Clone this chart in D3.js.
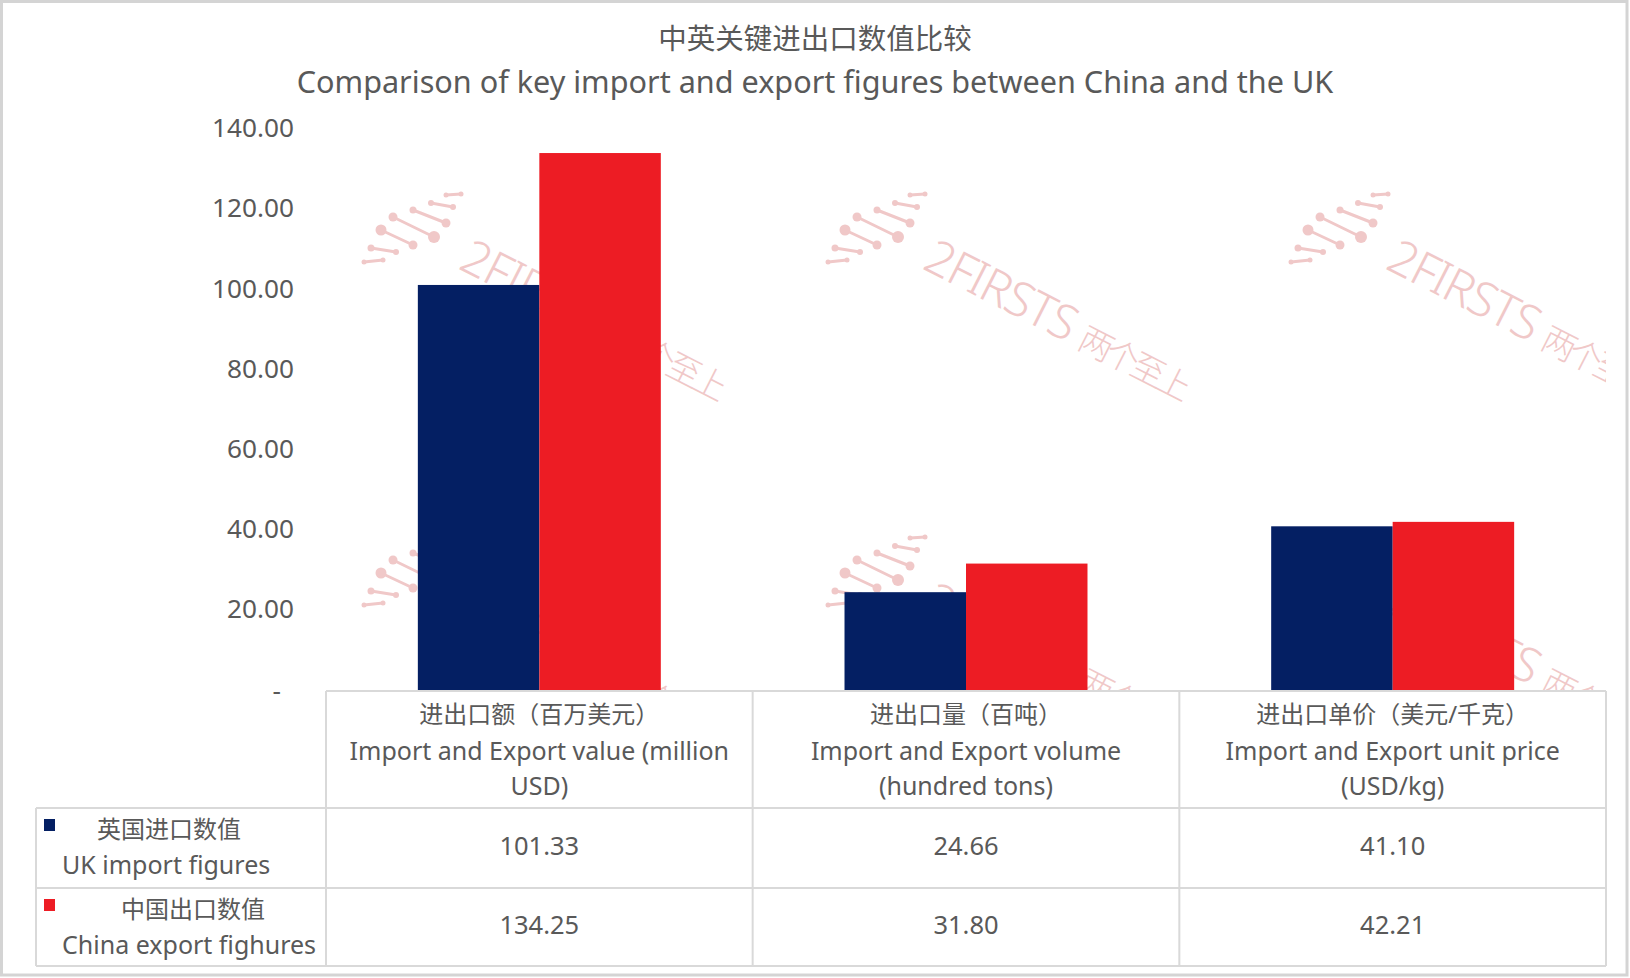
<!DOCTYPE html>
<html><head><meta charset="utf-8">
<script src="https://cdn.jsdelivr.net/npm/d3@7"></script>
<style>
html,body{margin:0;padding:0;background:#fff;}
svg{display:block;}
text{font-family:"Noto Sans","Noto Sans CJK SC",sans-serif;fill:#595959;}
</style></head><body>
<svg id="chart" width="1630" height="978"></svg>
<script>
// ---------- data ----------
const titleZh = "中英关键进出口数值比较";
const titleEn = "Comparison of key import and export figures between China and the UK";
const categoryKeys = ["value", "volume", "price"];
const categoriesZh = ["进出口额（百万美元）", "进出口量（百吨）", "进出口单价（美元/千克）"];
const categoriesEn = [["Import and Export value (million", "USD)"], ["Import and Export volume", "(hundred tons)"], ["Import and Export unit price", "(USD/kg)"]];
const seriesKeys = ["uk", "china"];
const seriesZh = ["英国进口数值", "中国出口数值"];
const seriesEn = ["UK import figures", "China export fighures"];
const ukImport = [101.33, 24.66, 41.10];
const chinaExport = [134.25, 31.80, 42.21];
const yTicks = [0, 20, 40, 60, 80, 100, 120, 140];
const colors = ["#041F63", "#ED1C24"];

// ---------- layout ----------
const W = 1630, H = 978;
const plotLeft = 326, plotRight = 1606, plotTop = 130, plotBottom = 691;
const tableLeft = 36, headerBottom = 808, row1Bottom = 888, row2Bottom = 966;
const gridColor = "#d9d9d9";
const svg = d3.select("#chart");

svg.append("rect").attr("width", W).attr("height", H).attr("fill", "#fff");

const series = [ukImport, chinaExport];
const y = d3.scaleLinear().domain([0, 140]).range([plotBottom, plotTop]);
const x0 = d3.scaleBand().domain(categoryKeys).range([plotLeft, plotRight]).paddingInner(0).paddingOuter(0);
const x1 = d3.scaleBand().domain(seriesKeys).range([0, x0.bandwidth()]).paddingInner(0).paddingOuter(0.756);

// ---------- watermark (decoration) ----------
svg.append("clipPath").attr("id", "wmclip").append("rect")
  .attr("x", 0).attr("y", 0).attr("width", plotRight).attr("height", plotBottom);
const wmAnchors = [[457, 268], [921, 268], [1384, 268], [457, 611], [921, 611], [1384, 611]];
const logoLines = [[-93,-6,-74,-8,2.5,2.5],[-86,-20,-61,-16,3.5,3],[-76,-38,-44,-23,5.5,4.5],[-64,-51,-23,-31,4.5,6],[-44,-58,-11,-45,3.5,4.5],[-26,-65,-4,-61,3,3],[-11,-73,4,-74,2.5,2.5]];
const wmColor = "#f0c8c8";
const wm = svg.append("g").attr("class", "watermark").attr("clip-path", "url(#wmclip)");
wmAnchors.forEach(([ax, ay]) => {
  const g = wm.append("g").attr("transform", `translate(${ax},${ay})`);
  logoLines.forEach(([a, b, c, d, r1, r2]) => {
    g.append("line").attr("x1", a).attr("y1", b).attr("x2", c).attr("y2", d)
      .attr("stroke", wmColor).attr("stroke-width", 3).attr("stroke-linecap", "round");
    g.append("circle").attr("cx", a).attr("cy", b).attr("r", r1).attr("fill", wmColor);
    g.append("circle").attr("cx", c).attr("cy", d).attr("r", r2).attr("fill", wmColor);
  });
  const t = g.append("text").attr("transform", "rotate(27)")
    .attr("x", 0).attr("y", 0)
    .style("font-size", "48px").style("font-weight", 300).style("fill", wmColor);
  t.append("tspan").style("letter-spacing", "-1.5px").text("2FIRSTS ");
  t.append("tspan").style("font-size", "34px").style("letter-spacing", "-5px").text("两个至上");
});

// ---------- titles ----------
svg.append("text").attr("x", W / 2).attr("y", 38).attr("text-anchor", "middle")
  .attr("dominant-baseline", "central").style("font-size", "28.5px").text(titleZh);
svg.append("text").attr("x", W / 2).attr("y", 81).attr("text-anchor", "middle")
  .attr("dominant-baseline", "central").style("font-size", "30.6px").text(titleEn);

// ---------- bars ----------
const groups = svg.append("g").selectAll("g").data(categoryKeys).join("g")
  .attr("transform", d => `translate(${x0(d)},0)`);
groups.selectAll("rect").data((d, i) => seriesKeys.map((s, j) => ({ s, v: series[j][i], j })))
  .join("rect")
  .attr("x", d => x1(d.s)).attr("width", x1.bandwidth())
  .attr("y", d => y(d.v)).attr("height", d => y(0) - y(d.v))
  .attr("fill", d => colors[d.j]);

// ---------- y axis ----------
const yAxis = d3.axisLeft(y).tickValues(yTicks).tickSize(0).tickPadding(32)
  .tickFormat(v => v === 0 ? "-" : d3.format(",.2f")(v));
const ag = svg.append("g").attr("transform", `translate(${plotLeft},0)`).call(yAxis);
ag.select(".domain").remove();
ag.selectAll("text").style("font-size", "26.2px").style("fill", "#595959")
  .attr("font-family", null).attr("dy", "0.26em");
ag.selectAll(".tick").filter(d => d === 0).select("text").attr("dx", -13).attr("dy", "0.33em");

// ---------- data table ----------
const tbl = svg.append("g");
tbl.append("rect").attr("x", plotLeft).attr("y", plotBottom).attr("width", plotRight - plotLeft).attr("height", headerBottom - plotBottom).attr("fill", "#fff");
tbl.append("rect").attr("x", tableLeft).attr("y", headerBottom).attr("width", plotRight - tableLeft).attr("height", row2Bottom - headerBottom).attr("fill", "#fff");
const hline = (x1_, x2_, yy) => tbl.append("line").attr("x1", x1_).attr("x2", x2_).attr("y1", yy).attr("y2", yy).attr("stroke", gridColor).attr("stroke-width", 2);
const vline = (xx, y1_, y2_) => tbl.append("line").attr("x1", xx).attr("x2", xx).attr("y1", y1_).attr("y2", y2_).attr("stroke", gridColor).attr("stroke-width", 2);
hline(plotLeft, plotRight, plotBottom);
hline(tableLeft, plotRight, headerBottom);
hline(tableLeft, plotRight, row1Bottom);
hline(tableLeft, plotRight, row2Bottom);
vline(tableLeft, headerBottom, row2Bottom);
categoryKeys.forEach(k => vline(x0(k), plotBottom, row2Bottom));
vline(plotRight, plotBottom, row2Bottom);

// header cells
categoryKeys.forEach((k, i) => {
  const cx = x0(k) + x0.bandwidth() / 2;
  tbl.append("text").attr("x", cx).attr("y", 713).attr("text-anchor", "middle").attr("dominant-baseline", "central")
    .style("font-size", "24px").text(categoriesZh[i]);
  categoriesEn[i].forEach((line, li) => {
    tbl.append("text").attr("x", cx).attr("y", 750 + li * 35).attr("text-anchor", "middle").attr("dominant-baseline", "central")
      .style("font-size", "25px").text(line);
  });
});

// series rows
const rowCenters = [(headerBottom + row1Bottom) / 2, (row1Bottom + row2Bottom) / 2];
const zhStart = [97, 121];
seriesKeys.forEach((s, j) => {
  const top = j === 0 ? headerBottom : row1Bottom;
  tbl.append("rect").attr("x", 44).attr("y", top + 11).attr("width", 11).attr("height", 12).attr("fill", colors[j]);
  tbl.append("text").attr("x", zhStart[j]).attr("y", top + 20).attr("dominant-baseline", "central")
    .style("font-size", "24px").text(seriesZh[j]);
  tbl.append("text").attr("x", 62).attr("y", top + 56).attr("dominant-baseline", "central")
    .style("font-size", "25px").text(seriesEn[j]);
  categoryKeys.forEach((k, i) => {
    tbl.append("text").attr("x", x0(k) + x0.bandwidth() / 2).attr("y", rowCenters[j] - 3)
      .attr("text-anchor", "middle").attr("dominant-baseline", "central")
      .style("font-size", "25.5px").text(d3.format(".2f")(series[j][i]));
  });
});

// outer frame
svg.append("rect").attr("x", 1.5).attr("y", 1.5).attr("width", W - 4.5).attr("height", H - 4.5)
  .attr("fill", "none").attr("stroke", "#d4d4d4").attr("stroke-width", 3);
</script>
</body></html>
